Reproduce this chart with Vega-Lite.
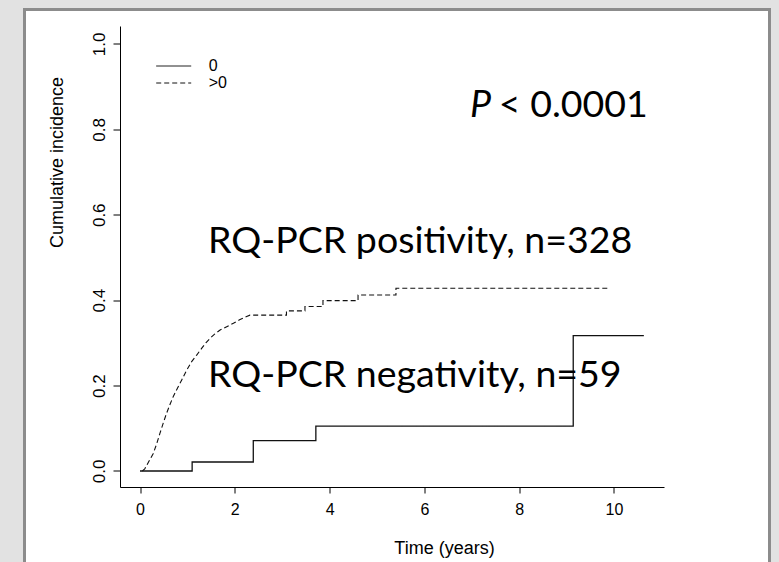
{
  "$schema": "https://vega.github.io/schema/vega-lite/v6.json",
  "width": 745,
  "height": 552.5,
  "autosize": {"type": "none"},
  "padding": {"left": 24.5, "top": 9.5, "right": 9.5, "bottom": 0},
  "background": "#e2e2e2",
  "config": {
    "view": {"fill": "white", "stroke": "#8c8c8c", "strokeWidth": 3, "strokeDash": [1297.5, 745, 552.5]},
    "font": "Liberation Sans",
    "axis": {
      "grid": false,
      "domainColor": "black",
      "tickColor": "black",
      "labelColor": "black",
      "titleColor": "black",
      "labelFont": "Liberation Sans",
      "titleFont": "Liberation Sans",
      "titleFontWeight": "normal",
      "domainWidth": 1,
      "tickWidth": 1
    }
  },
  "datasets": {
    "negative": [
      {"grp": "0", "t": 0, "v": 0},
      {"grp": "0", "t": 1.1, "v": 0.021},
      {"grp": "0", "t": 2.39, "v": 0.071},
      {"grp": "0", "t": 3.71, "v": 0.105},
      {"grp": "0", "t": 9.14, "v": 0.317},
      {"grp": "0", "t": 10.63, "v": 0.317}
    ],
    "positive": [
      {"grp": ">0", "t": 0.05, "v": 0},
      {"grp": ">0", "t": 0.1, "v": 0.005},
      {"grp": ">0", "t": 0.2, "v": 0.025},
      {"grp": ">0", "t": 0.28, "v": 0.041},
      {"grp": ">0", "t": 0.35, "v": 0.063},
      {"grp": ">0", "t": 0.42, "v": 0.088},
      {"grp": ">0", "t": 0.49, "v": 0.112},
      {"grp": ">0", "t": 0.56, "v": 0.135},
      {"grp": ">0", "t": 0.63, "v": 0.155},
      {"grp": ">0", "t": 0.7, "v": 0.174},
      {"grp": ">0", "t": 0.79, "v": 0.194},
      {"grp": ">0", "t": 0.88, "v": 0.213},
      {"grp": ">0", "t": 0.98, "v": 0.235},
      {"grp": ">0", "t": 1.09, "v": 0.256},
      {"grp": ">0", "t": 1.2, "v": 0.272},
      {"grp": ">0", "t": 1.3, "v": 0.287},
      {"grp": ">0", "t": 1.39, "v": 0.3},
      {"grp": ">0", "t": 1.48, "v": 0.311},
      {"grp": ">0", "t": 1.58, "v": 0.321},
      {"grp": ">0", "t": 1.69, "v": 0.33},
      {"grp": ">0", "t": 1.83, "v": 0.338},
      {"grp": ">0", "t": 1.97, "v": 0.346},
      {"grp": ">0", "t": 2.1, "v": 0.354},
      {"grp": ">0", "t": 2.25, "v": 0.362},
      {"grp": ">0", "t": 2.32, "v": 0.365},
      {"grp": ">0", "t": 3.09, "v": 0.365},
      {"grp": ">0", "t": 3.09, "v": 0.375},
      {"grp": ">0", "t": 3.48, "v": 0.375},
      {"grp": ">0", "t": 3.48, "v": 0.385},
      {"grp": ">0", "t": 3.86, "v": 0.385},
      {"grp": ">0", "t": 3.86, "v": 0.399},
      {"grp": ">0", "t": 4.6, "v": 0.399},
      {"grp": ">0", "t": 4.6, "v": 0.412},
      {"grp": ">0", "t": 5.4, "v": 0.412},
      {"grp": ">0", "t": 5.4, "v": 0.428},
      {"grp": ">0", "t": 9.87, "v": 0.428}
    ],
    "notes": [
      {"label": "RQ-PCR positivity, n=328", "t": 1.435, "v": 0.51},
      {"label": "RQ-PCR negativity, n=59", "t": 1.435, "v": 0.197},
      {"label": "< 0.0001", "t": 7.57, "v": 0.829}
    ],
    "pLabel": [
      {"label": "P", "t": 6.96, "v": 0.829}
    ]
  },
  "encoding": {
    "x": {
      "field": "t",
      "type": "quantitative",
      "scale": {"domain": [-0.422, 11.055], "range": [95.5, 639.5], "nice": false, "zero": false},
      "axis": {
        "values": [0, 2, 4, 6, 8, 10],
        "format": "d",
        "offset": -75,
        "tickSize": 6,
        "labelFontSize": 16,
        "labelPadding": 8,
        "title": "Time (years)",
        "titleFontSize": 18,
        "titleX": 419.5,
        "titleY": 61,
        "titleAlign": "center",
        "titleBaseline": "middle"
      }
    },
    "y": {
      "field": "v",
      "type": "quantitative",
      "scale": {"domain": [-0.0375, 1.042], "range": [477.5, 16.5], "nice": false, "zero": false},
      "axis": {
        "values": [0, 0.2, 0.4, 0.6, 0.8, 1.0],
        "format": ".1f",
        "offset": -95.5,
        "tickSize": 7,
        "labelFontSize": 17,
        "labelAngle": 270,
        "labelAlign": "center",
        "labelBaseline": "bottom",
        "labelPadding": 5,
        "title": "Cumulative incidence",
        "titleFontSize": 18,
        "titleX": -63,
        "titleY": 152.5,
        "titleAngle": 270,
        "titleAlign": "center",
        "titleBaseline": "middle"
      }
    }
  },
  "layer": [
    {
      "data": {"name": "negative"},
      "mark": {"type": "line", "interpolate": "step-after", "color": "#111111", "strokeWidth": 1.3},
      "encoding": {
        "strokeDash": {
          "field": "grp",
          "type": "nominal",
          "scale": {"domain": ["0", ">0"], "range": [[1, 0], [5, 3]]},
          "legend": {
            "title": null,
            "orient": "none",
            "legendX": 141.2,
            "legendY": 48.5,
            "padding": 0,
            "symbolType": "M-3,0L3,0",
            "symbolSize": 136,
            "symbolStrokeColor": "black",
            "symbolStrokeWidth": 1,
            "labelFont": "Liberation Sans",
            "labelFontSize": 16,
            "labelColor": "black",
            "labelOffset": 27,
            "rowPadding": 1
          }
        }
      }
    },
    {
      "data": {"name": "positive"},
      "mark": {"type": "line", "interpolate": "linear", "color": "#111111", "strokeWidth": 1.1},
      "encoding": {
        "strokeDash": {"field": "grp", "type": "nominal"}
      }
    },
    {
      "data": {"name": "notes"},
      "mark": {"type": "text", "align": "left", "baseline": "alphabetic", "font": "Lato", "fontSize": 37.5, "color": "black"},
      "encoding": {
        "text": {"field": "label"}
      }
    },
    {
      "data": {"name": "pLabel"},
      "mark": {"type": "text", "align": "left", "baseline": "alphabetic", "font": "Lato", "fontSize": 37.5, "fontStyle": "italic", "color": "black"},
      "encoding": {
        "text": {"field": "label"}
      }
    }
  ]
}
